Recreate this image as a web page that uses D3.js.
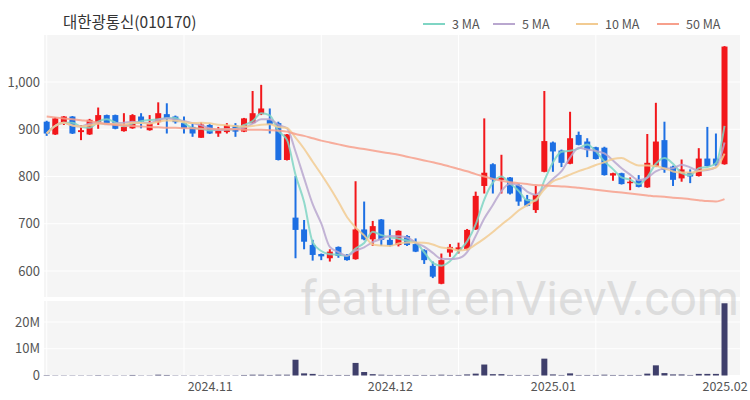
<!DOCTYPE html>
<html><head><meta charset="utf-8">
<script src="https://cdn.jsdelivr.net/npm/d3@7"></script>
<style>body{margin:0;background:#fff;}svg{display:block;font-family:"Noto Sans CJK KR","Noto Sans",sans-serif;}</style>
</head><body><svg id="c" width="750" height="400"></svg>
<script>
const title = "대한광통신(010170)";
const dates = ["2024-10-04","2024-10-07","2024-10-08","2024-10-10","2024-10-11","2024-10-14","2024-10-15","2024-10-16","2024-10-17","2024-10-18","2024-10-21","2024-10-22","2024-10-23","2024-10-24","2024-10-25","2024-10-28","2024-10-29","2024-10-30","2024-10-31",
"2024-11-01","2024-11-04","2024-11-05","2024-11-06","2024-11-07","2024-11-08","2024-11-11","2024-11-12","2024-11-13","2024-11-14","2024-11-15","2024-11-18","2024-11-19","2024-11-20","2024-11-21","2024-11-22","2024-11-25","2024-11-26","2024-11-27","2024-11-28","2024-11-29",
"2024-12-02","2024-12-03","2024-12-04","2024-12-05","2024-12-06","2024-12-09","2024-12-10","2024-12-11","2024-12-12","2024-12-13","2024-12-16","2024-12-17","2024-12-18","2024-12-19","2024-12-20","2024-12-23","2024-12-24","2024-12-26","2024-12-27",
"2025-01-02","2025-01-03","2025-01-06","2025-01-07","2025-01-08","2025-01-09","2025-01-10","2025-01-13","2025-01-14","2025-01-15","2025-01-16","2025-01-17","2025-01-20","2025-01-21","2025-01-22","2025-01-23","2025-01-24","2025-01-27","2025-01-30","2025-01-31",
"2025-02-03"];
const open  = [916,889,915,927,894,889,915,930,930,896,902,927,898,915,932,927,913,905,882,909,891,894,908,895,913,932,920,913,835,713,688,655,636,627,651,634,625,688,667,709,666,655,674,657,644,611,573,639,644,646,688,780,826,793,798,782,752,729,810,872,855,827,888,874,862,861,802,807,786,793,777,821,877,821,796,808,801,838,838,826];
const high  = [918,925,928,928,909,922,946,931,931,934,932,934,930,957,955,929,927,913,915,912,905,913,913,924,981,994,944,916,890,801,708,666,637,646,652,636,790,747,706,710,688,686,676,669,646,620,637,657,660,689,768,923,828,846,799,785,761,780,981,874,857,937,895,881,863,863,808,808,798,803,890,956,916,823,836,815,860,905,891,1076];
const low   = [886,888,909,890,877,888,901,912,900,895,901,902,897,909,891,912,891,884,882,890,884,891,884,894,912,930,891,834,834,627,646,622,623,620,628,622,624,665,653,653,652,652,653,640,615,585,572,630,637,644,687,764,764,764,762,738,737,723,809,810,820,826,866,841,836,802,791,783,771,777,776,820,808,780,789,786,800,821,823,825];
const close = [891,923,927,891,898,920,930,913,901,905,930,916,913,934,923,915,902,891,910,891,898,909,895,923,934,944,910,835,889,687,662,634,631,641,632,623,688,667,695,666,654,685,655,641,623,588,623,651,650,687,759,808,794,798,764,747,738,761,875,853,829,881,867,856,837,803,807,784,789,778,829,874,814,793,815,800,838,822,824,1075];
const volumeM = [0.15,0.1,0.1,0.1,0.1,0.1,0.15,0.1,0.1,0.1,0.2,0.1,0.1,0.3,0.2,0.1,0.1,0.1,0.1,0.1,0.1,0.1,0.1,0.2,0.3,0.3,0.2,0.3,0.3,5.9,0.8,0.6,0.2,0.2,0.2,0.2,4.7,1.3,0.5,0.3,0.2,0.2,0.2,0.2,0.2,0.2,0.3,0.2,0.2,0.4,0.7,4.1,0.5,0.5,0.2,0.2,0.2,0.2,6.3,0.4,0.2,0.8,0.2,0.2,0.2,0.3,0.2,0.2,0.2,0.2,0.7,3.8,0.9,0.4,0.4,0.2,0.6,0.6,0.6,27.0];
const ma50 = [927,925,923,921,919,917,914,911,909,908,907,906,905,904,903,903,902,902,901,901,900,900,900,899,899,899,898,897,895,890,886,881,876,872,868,864,861,858,855,852,849,846,842,838,834,830,826,821,816,811,805,800,795,791,788,786,784,782,781,780,779,778,776,774,772,770,768,766,764,762,760,758,757,755,754,752,750,748,747,752];
const priceTicks = [600,700,800,900,1000];
const volTicks = [0,10,20];
const maPeriods = [3,5,10];
const legendLabels = ["3 MA","5 MA","10 MA","50 MA"];
const maColors = ["#7fd5c4","#b9a7cf","#f2cb92","#f7a08c"];
const upColor = "#f2171b", downColor = "#1d6fe3", volColor = "#3f3f6b";

const svg = d3.select("#c");
const x = d3.scalePoint().domain(dates).range([42.4, 728.8]).padding(0.5);
const y = d3.scaleLinear().domain([545, 1099.5]).range([297, 35]);
const yv = d3.scaleLinear().domain([0, 27.85]).range([375.5, 301]);
const panelL = 44, panelR = 740;

// panels
svg.append("rect").attr("x",panelL).attr("y",35).attr("width",panelR-panelL).attr("height",262).attr("fill","#f5f5f5");
svg.append("rect").attr("x",panelL).attr("y",301).attr("width",panelR-panelL).attr("height",74.5).attr("fill","#f5f5f5");

// gridlines
const gridIdx = [0,16,32,48,64];
gridIdx.forEach(i=>{
  [[35,297],[301,375.5]].forEach(([a,b])=>{
    svg.append("line").attr("x1",x(dates[i])).attr("x2",x(dates[i])).attr("y1",a).attr("y2",b).attr("stroke","#fff").attr("stroke-width",1);
  });
});
priceTicks.forEach(v=>{
  svg.append("line").attr("x1",panelL).attr("x2",panelR).attr("y1",y(v)).attr("y2",y(v)).attr("stroke","#fff").attr("stroke-width",1);
});
volTicks.forEach(v=>{
  svg.append("line").attr("x1",panelL).attr("x2",panelR).attr("y1",yv(v)).attr("y2",yv(v)).attr("stroke","#fff").attr("stroke-width",1);
});

// axes labels
const fmt = d3.format(",");
const yAxis = d3.axisLeft(y).tickValues(priceTicks).tickFormat(fmt).tickSize(0).tickPadding(4);
const ga = svg.append("g").attr("transform","translate(44,0)").call(yAxis);
ga.select(".domain").remove();
ga.selectAll("text").attr("font-size",13).attr("fill","#555").attr("font-family","'Noto Sans CJK KR','Noto Sans',sans-serif");
const vAxis = d3.axisLeft(yv).tickValues(volTicks).tickFormat(d=>d===0?"0":d+"M").tickSize(0).tickPadding(4);
const gv = svg.append("g").attr("transform","translate(44,0)").call(vAxis);
gv.select(".domain").remove();
gv.selectAll("text").attr("font-size",13).attr("fill","#555").attr("font-family","'Noto Sans CJK KR','Noto Sans',sans-serif");

// month ticks
const monthIdx = [];
dates.forEach((d,i)=>{ if(i>0 && d.slice(0,7)!==dates[i-1].slice(0,7)) monthIdx.push(i); });
const xAxis = d3.axisBottom(x).tickValues(monthIdx.map(i=>dates[i])).tickFormat(d=>d.slice(0,7).replace("-",".")).tickSize(0).tickPadding(6);
const gx = svg.append("g").attr("transform","translate(0,376)").call(xAxis);
gx.select(".domain").remove();
gx.selectAll("text").attr("font-size",12.5).attr("fill","#555").attr("font-family","'Noto Sans CJK KR','Noto Sans',sans-serif");

// volume bars
const bw = 6;
svg.append("g").selectAll("rect").data(dates).join("rect")
  .attr("x",d=>x(d)-bw/2).attr("width",bw)
  .attr("y",(d,i)=>yv(volumeM[i])).attr("height",(d,i)=>yv(0)-yv(volumeM[i]))
  .attr("fill",volColor);

// candles
const cg = svg.append("g");
dates.forEach((d,i)=>{
  const up = close[i] >= open[i];
  const col = up ? upColor : downColor;
  cg.append("line").attr("x1",x(d)).attr("x2",x(d)).attr("y1",y(high[i])).attr("y2",y(low[i])).attr("stroke",col).attr("stroke-width",2);
  const top = y(Math.max(open[i],close[i])), bot = y(Math.min(open[i],close[i]));
  cg.append("rect").attr("x",x(d)-bw/2).attr("width",bw).attr("y",top).attr("height",Math.max(1.5,bot-top)).attr("fill",col);
});

// moving averages
const line = d3.line().x(p=>x(p[0])).y(p=>y(p[1])).curve(d3.curveMonotoneX);
maPeriods.forEach((n,k)=>{
  const pts = dates.map((d,i)=>{
    const s = close.slice(Math.max(0,i-n+1), i+1);
    return [d, d3.mean(s)];
  });
  svg.append("path").attr("d",line(pts)).attr("fill","none").attr("stroke",maColors[k]).attr("stroke-width",2).attr("opacity",0.85);
});
svg.append("path").attr("d",line(dates.map((d,i)=>[d,ma50[i]]))).attr("fill","none").attr("stroke",maColors[3]).attr("stroke-width",2).attr("opacity",0.85);

// title
svg.append("text").attr("x",63).attr("y",28).attr("font-size",15.5).attr("fill","#333").text(title);

// legend
const legX = [423,493,576,657];
legendLabels.forEach((t,k)=>{
  svg.append("line").attr("x1",legX[k]).attr("x2",legX[k]+22).attr("y1",24).attr("y2",24).attr("stroke",maColors[k]).attr("stroke-width",2);
  svg.append("text").attr("x",legX[k]+29).attr("y",28.5).attr("font-size",12.5).attr("fill","#555").text(t);
});

// watermark
svg.append("text").attr("x",300).attr("y",315).attr("font-size",48).attr("font-family","Roboto,'Noto Sans',sans-serif")
  .attr("fill","#c8c8c8").attr("opacity",0.55).text("feature.enVievV.com");
</script></body></html>
